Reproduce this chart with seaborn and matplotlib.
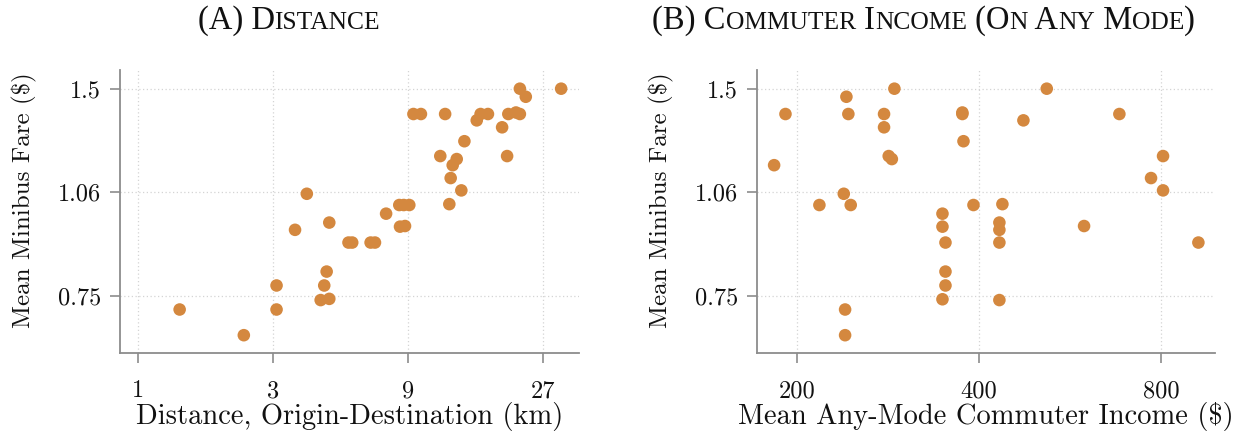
import numpy as np
import pandas as pd
import matplotlib
matplotlib.use("Agg")
import matplotlib.pyplot as plt
import seaborn as sns
from matplotlib.offsetbox import TextArea, HPacker, AnnotationBbox

# ---------------- data ----------------
dist_km = [1.40, 2.36, 3.08, 3.08, 3.58, 3.94, 4.41, 4.73, 4.54, 4.63, 4.73,
           5.53, 5.70, 6.62, 6.86, 7.51, 8.41, 8.76, 8.36, 8.67, 9.07,
           9.38, 9.97, 12.14, 11.67, 13.34, 12.91, 12.70, 13.85, 12.56,
           14.2, 15.7, 16.2, 17.2, 19.3, 20.1, 20.3, 21.6, 22.3, 22.3,
           23.4, 31.2]
fare_dist = [0.716, 0.657, 0.776, 0.716, 0.935, 1.055, 0.739, 0.742, 0.776,
             0.813, 0.958, 0.896, 0.896, 0.896, 0.896, 0.987, 0.945, 0.947,
             1.016, 1.016, 1.016, 1.378, 1.378, 1.378, 1.197, 1.185, 1.161,
             1.112, 1.067, 1.019, 1.258, 1.349, 1.378, 1.378, 1.318, 1.197,
             1.378, 1.385, 1.378, 1.500, 1.460, 1.500]

income = [183.5, 191.6, 218.0, 239.2, 245.6, 241.6, 243.4, 240.4, 240.4,
          278.8, 278.8, 283.8, 287.2, 290.0, 348.2, 348.2, 352.2, 352.2,
          352.2, 348.2, 375.6, 375.6, 377.2, 391.8, 437.4, 432.4, 432.4,
          432.4, 432.4, 473.8, 517.8, 596.8, 682.6, 770.0, 806.0, 806.0,
          922.0]
fare_inc = [1.161, 1.378, 1.016, 1.055, 1.016, 1.460, 1.378, 0.716, 0.657,
            1.378, 1.318, 1.197, 1.185, 1.500, 0.987, 0.945, 0.896, 0.813,
            0.776, 0.741, 1.385, 1.378, 1.258, 1.016, 1.019, 0.958, 0.935,
            0.896, 0.739, 1.349, 1.500, 0.947, 1.378, 1.112, 1.197, 1.067,
            0.896]

x_ticks_a = [1, 3, 9, 27]
x_labels_a = ["1", "3", "9", "27"]
x_ticks_b = [200, 400, 800]
x_labels_b = ["200", "400", "800"]
y_ticks = [0.75, 1.06, 1.5]
y_labels = ["0.75", "1.06", "1.5"]

# small-caps titles: (text, relative size)
title_a = [("(A) D", 1.0), ("ISTANCE", 0.78)]
title_b = [("(B) C", 1.0), ("OMMUTER", 0.78), (" I", 1.0), ("NCOME", 0.78),
           (" (O", 1.0), ("N", 0.78), (" A", 1.0), ("NY", 0.78), (" M", 1.0),
           ("ODE", 0.78), (")", 1.0)]

xlabel_a = "Distance, Origin-Destination (km)"
xlabel_b = "Mean Any-Mode Commuter Income ($)"
ylabel = "Mean Minibus Fare ($)"

# ---------------- style ----------------
sns.set_theme(style="white")
plt.rcParams["font.family"] = ["cmr10", "DejaVu Serif"]
plt.rcParams["axes.formatter.use_mathtext"] = True

DOT = "#D4883F"
SPINE = "#8c8c8c"
GRID = "#d4d4d4"
TXT = "#111111"

fig = plt.figure(figsize=(12.4, 4.33), dpi=100)
ax_a = fig.add_axes([0.0968, 0.1848, 0.3702, 0.6536])
ax_b = fig.add_axes([0.6102, 0.1848, 0.3696, 0.6536])

df_a = pd.DataFrame({"x": dist_km, "y": fare_dist})
df_b = pd.DataFrame({"x": income, "y": fare_inc})

for ax, df, xt, xl, xlab, xlim in [
    (ax_a, df_a, x_ticks_a, x_labels_a, xlabel_a, (0.862, 36.1)),
    (ax_b, df_b, x_ticks_b, x_labels_b, xlabel_b, (171.7, 982.0)),
]:
    sns.scatterplot(data=df, x="x", y="y", ax=ax, color=DOT, s=82,
                    edgecolor="none", linewidth=0, zorder=3)
    ax.set_xscale("log")
    ax.set_yscale("log")
    ax.set_xlim(*xlim)
    ax.set_ylim(0.619, 1.597)
    ax.xaxis.set_major_locator(matplotlib.ticker.FixedLocator(xt))
    ax.xaxis.set_major_formatter(matplotlib.ticker.FixedFormatter(xl))
    ax.xaxis.set_minor_locator(matplotlib.ticker.NullLocator())
    ax.yaxis.set_major_locator(matplotlib.ticker.FixedLocator(y_ticks))
    ax.yaxis.set_major_formatter(matplotlib.ticker.FixedFormatter(y_labels))
    ax.yaxis.set_minor_locator(matplotlib.ticker.NullLocator())
    ax.grid(True, which="major", linestyle=(0, (1, 2)), color=GRID,
            linewidth=0.9, zorder=0)
    for side in ["top", "right"]:
        ax.spines[side].set_visible(False)
    for side in ["left", "bottom"]:
        ax.spines[side].set_color(SPINE)
        ax.spines[side].set_linewidth(1.3)
    ax.tick_params(axis="both", which="major", direction="out", length=7.5,
                   width=1.2, color=SPINE, labelsize=17.5, labelcolor=TXT,
                   pad=6, bottom=True, left=True)
    ax.tick_params(axis="x", pad=12)
    ax.set_xlabel(xlab, fontsize=20.5, color=TXT, labelpad=0)
    ax.set_ylabel(ylabel, fontsize=18, color=TXT)
    ax.yaxis.set_label_coords(-0.181, 0.541)


def smallcaps_title(parts, xfig, yfig, size=23.5):
    areas = [TextArea(t, textprops=dict(fontsize=size * f,
                                        family="Liberation Serif",
                                        color=TXT))
             for t, f in parts]
    pack = HPacker(children=areas, align="baseline", pad=0, sep=0)
    ab = AnnotationBbox(pack, (xfig, yfig), xycoords="figure fraction",
                        frameon=False, box_alignment=(0.5, 0.5), pad=0)
    fig.add_artist(ab)


smallcaps_title(title_a, 0.233, 0.952)
smallcaps_title(title_b, 0.745, 0.952)

fig.savefig("out.png", dpi=100)
